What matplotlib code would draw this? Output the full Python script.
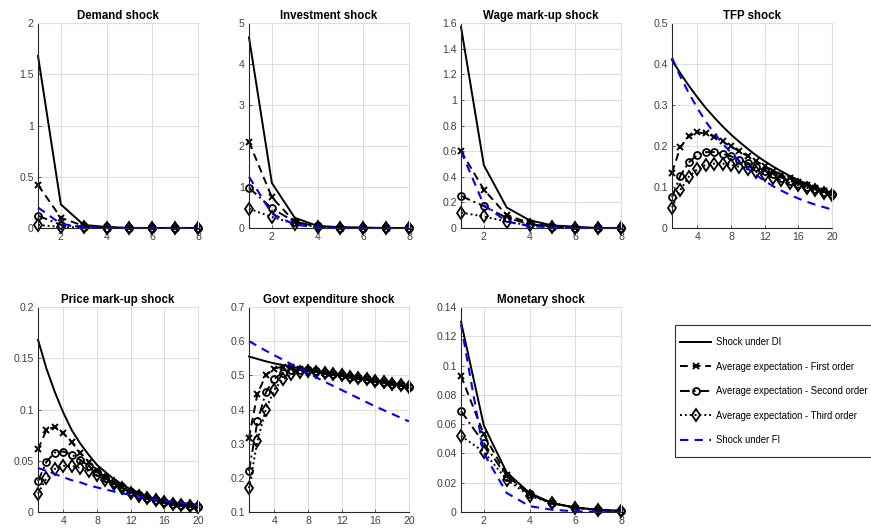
import matplotlib
matplotlib.use("Agg")
import matplotlib.pyplot as plt
from matplotlib.lines import Line2D
from matplotlib.patches import Rectangle

plt.rcParams['font.family'] = ['Liberation Sans', 'DejaVu Sans']

# ---- data ----
titles = ['Demand shock', 'Investment shock', 'Wage mark-up shock', 'TFP shock',
          'Price mark-up shock', 'Govt expenditure shock', 'Monetary shock']

horizon_short = [1, 2, 3, 4, 5, 6, 7, 8]
horizon_long = list(range(1, 21))

demand_di = [1.68, 0.23, 0.03, 0.01, 0.0, 0.0, 0.0, 0.0]
demand_e1 = [0.42, 0.10, 0.02, 0.005, 0.0, 0.0, 0.0, 0.0]
demand_e2 = [0.12, 0.03, 0.01, 0.0, 0.0, 0.0, 0.0, 0.0]
demand_e3 = [0.03, 0.01, 0.005, 0.0, 0.0, 0.0, 0.0, 0.0]
demand_fi = [0.20, 0.04, 0.01, 0.0, 0.0, 0.0, 0.0, 0.0]

invest_di = [4.65, 1.10, 0.25, 0.05, 0.02, 0.01, 0.0, 0.0]
invest_e1 = [2.10, 0.75, 0.15, 0.04, 0.01, 0.0, 0.0, 0.0]
invest_e2 = [0.98, 0.48, 0.15, 0.04, 0.01, 0.0, 0.0, 0.0]
invest_e3 = [0.47, 0.27, 0.10, 0.03, 0.01, 0.0, 0.0, 0.0]
invest_fi = [1.25, 0.35, 0.08, 0.02, 0.0, 0.0, 0.0, 0.0]

wage_di = [1.57, 0.49, 0.16, 0.06, 0.02, 0.01, 0.0, 0.0]
wage_e1 = [0.60, 0.30, 0.10, 0.04, 0.01, 0.0, 0.0, 0.0]
wage_e2 = [0.25, 0.17, 0.08, 0.03, 0.01, 0.0, 0.0, 0.0]
wage_e3 = [0.12, 0.09, 0.05, 0.02, 0.01, 0.0, 0.0, 0.0]
wage_fi = [0.60, 0.18, 0.05, 0.015, 0.005, 0.0, 0.0, 0.0]

tfp_di = [0.41, 0.377, 0.347, 0.319, 0.293, 0.27, 0.248, 0.228, 0.21, 0.193,
          0.177, 0.163, 0.15, 0.138, 0.127, 0.117, 0.107, 0.099, 0.091, 0.083]
tfp_e1 = [0.135, 0.197, 0.224, 0.233, 0.231, 0.223, 0.211, 0.199, 0.187, 0.175,
          0.163, 0.151, 0.140, 0.130, 0.121, 0.112, 0.104, 0.097, 0.090, 0.084]
tfp_e2 = [0.075, 0.128, 0.160, 0.178, 0.185, 0.185, 0.181, 0.175, 0.167, 0.158,
          0.149, 0.140, 0.131, 0.123, 0.115, 0.108, 0.101, 0.094, 0.088, 0.082]
tfp_e3 = [0.050, 0.093, 0.125, 0.143, 0.154, 0.157, 0.157, 0.154, 0.149, 0.143,
          0.137, 0.130, 0.123, 0.117, 0.110, 0.104, 0.098, 0.092, 0.086, 0.080]
tfp_fi = [0.415, 0.369, 0.329, 0.293, 0.26, 0.232, 0.206, 0.184, 0.163, 0.145,
          0.129, 0.115, 0.102, 0.091, 0.081, 0.072, 0.064, 0.057, 0.051, 0.045]

price_di = [0.168, 0.140, 0.117, 0.097, 0.080, 0.067, 0.056, 0.046, 0.039, 0.032,
            0.027, 0.022, 0.019, 0.015, 0.013, 0.011, 0.009, 0.008, 0.007, 0.006]
price_e1 = [0.061, 0.080, 0.083, 0.077, 0.068, 0.058, 0.049, 0.041, 0.034, 0.028,
            0.024, 0.020, 0.017, 0.014, 0.012, 0.010, 0.008, 0.007, 0.006, 0.005]
price_e2 = [0.030, 0.049, 0.058, 0.059, 0.056, 0.051, 0.045, 0.039, 0.033, 0.028,
            0.024, 0.020, 0.017, 0.014, 0.012, 0.010, 0.008, 0.007, 0.006, 0.005]
price_e3 = [0.018, 0.033, 0.042, 0.045, 0.045, 0.043, 0.040, 0.036, 0.031, 0.027,
            0.023, 0.019, 0.016, 0.014, 0.012, 0.010, 0.008, 0.007, 0.006, 0.005]
price_fi = [0.043, 0.040, 0.037, 0.034, 0.031, 0.029, 0.026, 0.024, 0.022, 0.020,
            0.018, 0.017, 0.015, 0.014, 0.012, 0.011, 0.010, 0.009, 0.008, 0.007]

govt_di = [0.555, 0.548, 0.541, 0.535, 0.530, 0.525, 0.521, 0.517, 0.513, 0.509,
           0.505, 0.501, 0.497, 0.493, 0.489, 0.485, 0.481, 0.477, 0.472, 0.466]
govt_e1 = [0.317, 0.446, 0.500, 0.520, 0.525, 0.523, 0.520, 0.516, 0.512, 0.508,
           0.504, 0.500, 0.496, 0.492, 0.488, 0.484, 0.480, 0.476, 0.471, 0.466]
govt_e2 = [0.220, 0.365, 0.450, 0.490, 0.508, 0.515, 0.517, 0.515, 0.512, 0.508,
           0.504, 0.500, 0.496, 0.492, 0.488, 0.484, 0.480, 0.476, 0.471, 0.466]
govt_e3 = [0.170, 0.308, 0.400, 0.458, 0.488, 0.503, 0.510, 0.512, 0.510, 0.507,
           0.504, 0.500, 0.496, 0.492, 0.488, 0.484, 0.480, 0.476, 0.471, 0.466]
govt_fi = [0.600, 0.586, 0.572, 0.559, 0.546, 0.533, 0.520, 0.507, 0.494, 0.481,
           0.469, 0.457, 0.445, 0.433, 0.421, 0.409, 0.398, 0.387, 0.376, 0.365]

mon_di = [0.130, 0.059, 0.027, 0.013, 0.006, 0.003, 0.0015, 0.0007]
mon_e1 = [0.093, 0.053, 0.025, 0.012, 0.006, 0.003, 0.0015, 0.0007]
mon_e2 = [0.069, 0.047, 0.024, 0.012, 0.006, 0.003, 0.0015, 0.0007]
mon_e3 = [0.052, 0.041, 0.022, 0.011, 0.006, 0.003, 0.0015, 0.0007]
mon_fi = [0.128, 0.040, 0.013, 0.004, 0.0015, 0.0005, 0.0002, 0.0]

legend_labels = ['Shock under DI', 'Average expectation - First order',
                 'Average expectation - Second order', 'Average expectation - Third order',
                 'Shock under FI']

panels = [
    (horizon_short, [demand_di, demand_e1, demand_e2, demand_e3, demand_fi], (0, 2), [0, 0.5, 1, 1.5, 2], [2, 4, 6, 8]),
    (horizon_short, [invest_di, invest_e1, invest_e2, invest_e3, invest_fi], (0, 5), [0, 1, 2, 3, 4, 5], [2, 4, 6, 8]),
    (horizon_short, [wage_di, wage_e1, wage_e2, wage_e3, wage_fi], (0, 1.6), [0, 0.2, 0.4, 0.6, 0.8, 1, 1.2, 1.4, 1.6], [2, 4, 6, 8]),
    (horizon_long, [tfp_di, tfp_e1, tfp_e2, tfp_e3, tfp_fi], (0, 0.5), [0, 0.1, 0.2, 0.3, 0.4, 0.5], [4, 8, 12, 16, 20]),
    (horizon_long, [price_di, price_e1, price_e2, price_e3, price_fi], (0, 0.2), [0, 0.05, 0.1, 0.15, 0.2], [4, 8, 12, 16, 20]),
    (horizon_long, [govt_di, govt_e1, govt_e2, govt_e3, govt_fi], (0.1, 0.7), [0.1, 0.2, 0.3, 0.4, 0.5, 0.6, 0.7], [4, 8, 12, 16, 20]),
    (horizon_short, [mon_di, mon_e1, mon_e2, mon_e3, mon_fi], (0, 0.14), [0, 0.02, 0.04, 0.06, 0.08, 0.1, 0.12, 0.14], [2, 4, 6, 8]),
]

# line styles: DI, first, second, third, FI
styles = [
    dict(color='black', linestyle='-', lw=1.4),
    dict(color='black', linestyle=(0, (4, 2.5)), lw=1.4, marker='x', ms=4, mew=1.4),
    dict(color='black', linestyle=(0, (5, 2, 1, 2)), lw=1.4, marker='o', ms=5, mew=1.3, mfc='none'),
    dict(color='black', linestyle=(0, (1, 1.5)), lw=1.4, marker='d', ms=6, mew=1.3, mfc='none'),
    dict(color='#0000ff', linestyle=(0, (4, 3)), lw=1.5),
]

W, H = 871, 531
fig = plt.figure(figsize=(W / 100, H / 100), dpi=100)

col_left = [38, 249, 461, 672]
row_top = [23, 307]
ax_w, ax_h = 160, 205

grid_col = '#dedede'
text_col = '#404040'

for i, (x, series, ylim, yticks, xticks) in enumerate(panels):
    r, c = divmod(i, 4)
    left = col_left[c] / W
    bottom = 1 - (row_top[r] + ax_h) / H
    ax = fig.add_axes([left, bottom, ax_w / W, ax_h / H])
    for ys, st in zip(series, styles):
        ax.plot(x, ys, clip_on=False, **st)
    ax.set_xlim(1, x[-1])
    ax.set_ylim(*ylim)
    ax.set_xticks(xticks)
    ax.set_yticks(yticks)
    ax.set_yticklabels([('%g' % v) for v in yticks])
    ax.grid(True, color=grid_col, lw=0.8)
    ax.set_axisbelow(True)
    ax.tick_params(direction='in', length=2, width=0.6, labelsize=7.6,
                   colors=text_col, pad=3, top=False, right=False)
    for s in ['top', 'right']:
        ax.spines[s].set_color(grid_col)
        ax.spines[s].set_linewidth(0.8)
    for s in ['left', 'bottom']:
        ax.spines[s].set_color('#262626')
        ax.spines[s].set_linewidth(0.8)
    ax.set_title(titles[i], fontsize=8.3, fontweight='bold', pad=3)

# legend frame runs past the right edge, as in the reference
fig.patches.append(Rectangle((675 / W, 1 - 457 / H), 220 / W, 132 / H,
                             transform=fig.transFigure, fill=False,
                             edgecolor='#333333', lw=0.8))
handles = [Line2D([], [], **st) for st in styles]
fig.legend(handles, legend_labels, loc='upper left',
           bbox_to_anchor=(680 / W, 1 - 337 / H), fontsize=6.85,
           frameon=False, handlelength=3.26, handletextpad=0.53,
           labelspacing=1.53, borderpad=0, borderaxespad=0, numpoints=1)

fig.savefig('out.png', dpi=100)
